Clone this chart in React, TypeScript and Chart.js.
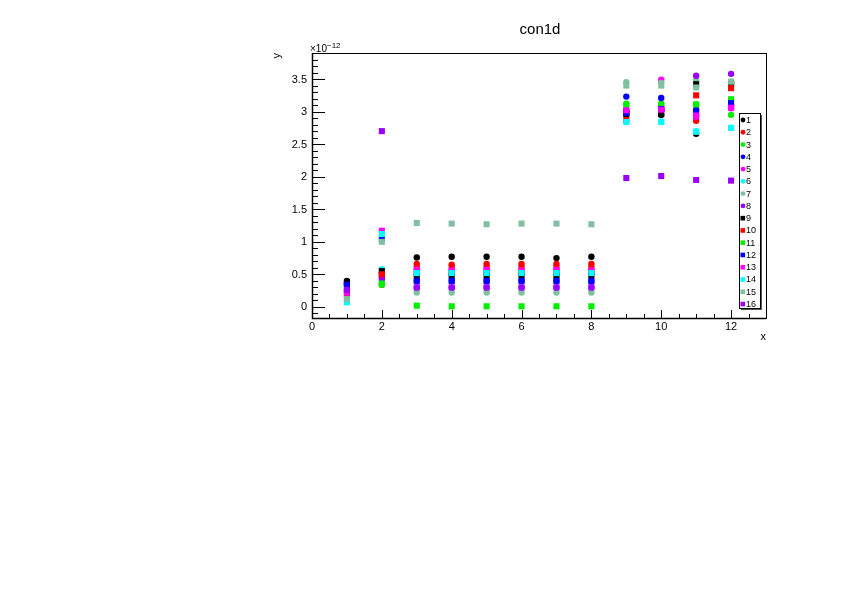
import React, { useEffect, useRef } from "react";
import { Chart, registerables } from "chart.js";

Chart.register(...registerables);

// x categories (bin centres)
const xValues = [1, 2, 3, 4, 5, 6, 7, 8, 9, 10, 11, 12];

// series values, in units of 1e-12
const s1 = [0.40, 0.52, 0.76, 0.77, 0.77, 0.77, 0.75, 0.77, 2.95, 2.95, 2.66, 3.44];
const s2 = [0.37, 0.34, 0.66, 0.65, 0.66, 0.66, 0.66, 0.66, 3.03, 3.03, 2.86, 3.08];
const s3 = [0.33, 0.34, 0.55, 0.55, 0.55, 0.55, 0.55, 0.55, 3.12, 3.12, 3.11, 2.95];
const s4 = [0.35, 0.46, 0.40, 0.40, 0.40, 0.40, 0.40, 0.39, 3.23, 3.21, 3.03, 3.10];
const s5 = [0.27, 0.50, 0.50, 0.50, 0.51, 0.50, 0.50, 0.50, 3.01, 3.49, 2.92, 3.05];
const s6 = [0.09, 0.58, 0.55, 0.55, 0.55, 0.55, 0.54, 0.55, 2.86, 2.85, 2.70, 2.75];
const s7 = [0.15, 0.38, 0.22, 0.22, 0.22, 0.22, 0.22, 0.22, 3.45, 3.44, 3.48, 3.46];
const s8 = [0.24, 0.42, 0.30, 0.30, 0.30, 0.30, 0.30, 0.30, 3.00, 3.02, 3.55, 3.58];
const s9 = [0.38, 0.55, 0.48, 0.48, 0.48, 0.48, 0.48, 0.48, 2.97, 2.96, 3.42, 3.43];
const s10 = [0.19, 0.50, 0.60, 0.60, 0.60, 0.60, 0.60, 0.60, 2.87, 3.05, 3.25, 3.36];
const s11 = [0.31, 0.36, 0.02, 0.01, 0.01, 0.01, 0.01, 0.01, 3.10, 3.09, 3.11, 3.19];
const s12 = [0.34, 1.05, 0.40, 0.40, 0.40, 0.40, 0.40, 0.40, 2.98, 3.04, 2.98, 3.13];
const s13 = [0.22, 1.17, 0.57, 0.56, 0.57, 0.56, 0.57, 0.56, 3.02, 3.03, 2.94, 3.06];
const s14 = [0.07, 1.12, 0.52, 0.52, 0.52, 0.52, 0.52, 0.52, 2.84, 2.84, 2.69, 2.75];
const s15 = [0.12, 1.00, 1.29, 1.28, 1.27, 1.28, 1.28, 1.27, 3.40, 3.40, 3.37, 3.46];
const s16 = [0.26, 2.70, 0.30, 0.30, 0.30, 0.30, 0.30, 0.30, 1.98, 2.01, 1.95, 1.94];

const seriesValues = [s1, s2, s3, s4, s5, s6, s7, s8, s9, s10, s11, s12, s13, s14, s15, s16];
const seriesNames = ["1", "2", "3", "4", "5", "6", "7", "8", "9", "10", "11", "12", "13", "14", "15", "16"];
const baseColors = ["#000000", "#ff0000", "#00ee00", "#0000ff", "#ff00ff", "#00ffff", "#80c0a0", "#9900ff"];
const seriesColors = [...baseColors, ...baseColors];
const seriesMarkers = ["circle", "circle", "circle", "circle", "circle", "circle", "circle", "circle",
  "rect", "rect", "rect", "rect", "rect", "rect", "rect", "rect"];

// tick labels
const yTickValues = [0, 0.5, 1, 1.5, 2, 2.5, 3, 3.5];
const yTickLabels = ["0", "0.5", "1", "1.5", "2", "2.5", "3", "3.5"];
const xTickValues = [0, 2, 4, 6, 8, 10, 12];
const xTickLabels = ["0", "2", "4", "6", "8", "10", "12"];
const yExponent = "\u221212";
const chartTitle = "con1d";
const xTitle = "x";
const yTitle = "y";

const X_MIN = 0;
const X_MAX = 13;
const Y_MIN = -0.17;
const Y_MAX = 3.9;

const FONT = "'Liberation Sans', Arial, Helvetica, sans-serif";

const rootPlugin = {
  id: "rootFrame",
  afterDatasetsDraw(chart: any) {
    const ctx: CanvasRenderingContext2D = chart.ctx;
    const { left, right, top, bottom } = chart.chartArea;
    const xs = chart.scales.x;
    const ys = chart.scales.y;
    ctx.save();

    // frame
    ctx.strokeStyle = "#000";
    ctx.lineWidth = 1;
    ctx.strokeRect(Math.round(left) + 0.5, Math.round(top) + 0.5, Math.round(right - left), Math.round(bottom - top));
    ctx.lineWidth = 1.5;
    ctx.beginPath();
    ctx.moveTo(left + 0.5, top);
    ctx.lineTo(left + 0.5, bottom + 0.5);
    ctx.lineTo(right, bottom + 0.5);
    ctx.stroke();

    // y ticks
    ctx.lineWidth = 1;
    ctx.beginPath();
    for (let k = Math.ceil(Y_MIN * 10); k <= Math.floor(Y_MAX * 10); k++) {
      const py = Math.round(ys.getPixelForValue(k / 10)) + 0.5;
      const len = k % 5 === 0 ? 13 : 6;
      ctx.moveTo(left, py);
      ctx.lineTo(left + len, py);
    }
    // x ticks
    for (let k = 0; k <= Math.floor(X_MAX * 2); k++) {
      const px = Math.round(xs.getPixelForValue(k / 2)) + 0.5;
      const len = k % 4 === 0 ? 8 : 4;
      ctx.moveTo(px, bottom);
      ctx.lineTo(px, bottom - len);
    }
    ctx.stroke();

    // tick labels
    ctx.fillStyle = "#000";
    ctx.font = `11px ${FONT}`;
    ctx.textAlign = "right";
    ctx.textBaseline = "middle";
    yTickValues.forEach((v, i) => {
      ctx.fillText(yTickLabels[i], left - 5, ys.getPixelForValue(v) + 0.5);
    });
    ctx.textAlign = "center";
    ctx.textBaseline = "top";
    xTickValues.forEach((v, i) => {
      ctx.fillText(xTickLabels[i], xs.getPixelForValue(v), bottom + 3);
    });

    // exponent
    ctx.textAlign = "left";
    ctx.textBaseline = "alphabetic";
    ctx.font = `10px ${FONT}`;
    ctx.fillText("\u00d710", left - 2, top - 1);
    const w = ctx.measureText("\u00d710").width;
    ctx.font = `8px ${FONT}`;
    ctx.fillText(yExponent, left - 2 + w, top - 5);

    // axis titles
    ctx.font = `11px ${FONT}`;
    ctx.textAlign = "right";
    ctx.textBaseline = "middle";
    ctx.fillText(xTitle, right, bottom + 19);
    ctx.save();
    ctx.translate(left - 35, top);
    ctx.rotate(-Math.PI / 2);
    ctx.textAlign = "right";
    ctx.fillText(yTitle, 0, 0);
    ctx.restore();

    // title
    ctx.font = `15px ${FONT}`;
    ctx.textAlign = "center";
    ctx.textBaseline = "middle";
    ctx.fillText(chartTitle, 540, 30);

    // legend
    const lx = 739, ly = 113, lw = 21, lh = 195;
    ctx.fillStyle = "#555";
    ctx.fillRect(lx + lw, ly + 2, 2, lh);
    ctx.fillRect(lx + 2, ly + lh, lw, 2);
    ctx.fillStyle = "#fff";
    ctx.fillRect(lx, ly, lw, lh);
    ctx.strokeStyle = "#000";
    ctx.lineWidth = 1;
    ctx.strokeRect(lx + 0.5, ly + 0.5, lw, lh);
    ctx.font = `9px ${FONT}`;
    ctx.textAlign = "left";
    ctx.textBaseline = "middle";
    seriesNames.forEach((name, i) => {
      const cy = 120 + i * 12.27;
      ctx.fillStyle = seriesColors[i];
      if (seriesMarkers[i] === "circle") {
        ctx.beginPath();
        ctx.arc(743, cy, 2.4, 0, Math.PI * 2);
        ctx.fill();
      } else {
        ctx.fillRect(740.5, cy - 2.3, 4.6, 4.6);
      }
      ctx.fillStyle = "#000";
      ctx.fillText(name, 746, cy + 0.5);
    });

    ctx.restore();
  },
};

export default function App() {
  const canvasRef = useRef<HTMLCanvasElement | null>(null);

  useEffect(() => {
    const canvas = canvasRef.current;
    if (!canvas) return;
    const datasets = seriesValues.map((vals, i) => ({
      label: seriesNames[i],
      data: xValues.map((x, j) => ({ x, y: vals[j] })),
      pointStyle: seriesMarkers[i] as any,
      pointRadius: seriesMarkers[i] === "circle" ? 3.2 : 4.3,
      pointHoverRadius: seriesMarkers[i] === "circle" ? 3.2 : 4.3,
      pointBorderWidth: 0,
      backgroundColor: seriesColors[i],
      borderColor: seriesColors[i],
      showLine: false,
      order: 16 - i,
    }));
    const chart = new Chart(canvas, {
      type: "scatter",
      data: { datasets },
      options: {
        animation: false,
        responsive: false,
        devicePixelRatio: 1,
        layout: { padding: { left: 312, top: 53, right: 76, bottom: 277 } },
        plugins: { legend: { display: false }, tooltip: { enabled: false }, title: { display: false } },
        scales: {
          x: { type: "linear", min: X_MIN, max: X_MAX, display: false },
          y: { type: "linear", min: Y_MIN, max: Y_MAX, display: false },
        },
      },
      plugins: [rootPlugin],
    });
    return () => chart.destroy();
  }, []);

  return (
    <div style={{ position: "fixed", left: 0, top: 0, width: 842, height: 595, background: "#fff" }}>
      <canvas ref={canvasRef} width={842} height={595} style={{ width: 842, height: 595 }} />
    </div>
  );
}
